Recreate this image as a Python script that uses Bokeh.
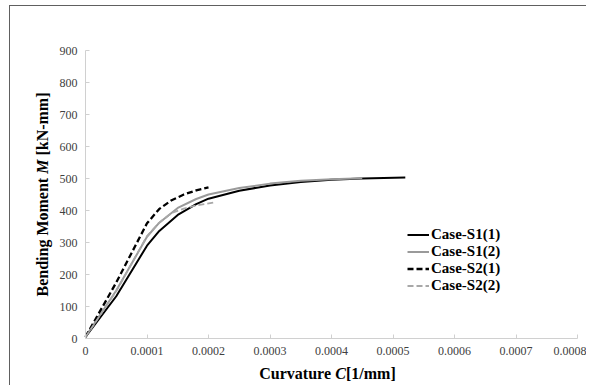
import math
from bokeh.plotting import figure
from bokeh.models import FixedTicker, Range1d, Legend, LegendItem, Label
from bokeh.embed import file_html
from bokeh.resources import INLINE

# Data (curvature [1/mm], bending moment [kN-mm])
s1_1_x = [0, 0.00005, 0.0001, 0.00012, 0.00015, 0.00018, 0.0002, 0.00025, 0.0003, 0.00035, 0.0004, 0.00045, 0.00052]
s1_1_y = [5, 132, 290, 336, 386, 420, 437, 462, 478, 489, 496, 500, 503]

s1_2_x = [0, 0.00005, 0.0001, 0.00012, 0.00015, 0.00018, 0.0002, 0.00025, 0.0003, 0.00035, 0.0004, 0.00045]
s1_2_y = [5, 150, 318, 362, 408, 436, 450, 470, 484, 493, 498, 501]

s2_1_x = [0, 0.00005, 0.0001, 0.00012, 0.00014, 0.00016, 0.00018, 0.0002]
s2_1_y = [5, 175, 360, 405, 432, 450, 463, 472]

s2_2_x = [0, 0.00005, 0.0001, 0.00012, 0.00014, 0.00016, 0.00018, 0.00021]
s2_2_y = [5, 148, 320, 362, 392, 406, 416, 425]

x_ticks = [0, 0.0001, 0.0002, 0.0003, 0.0004, 0.0005, 0.0006, 0.0007, 0.0008]
x_tick_labels = ["0", "0.0001", "0.0002", "0.0003", "0.0004", "0.0005", "0.0006", "0.0007", "0.0008"]
y_ticks = [0, 100, 200, 300, 400, 500, 600, 700, 800, 900]

x_title = ["Curvature ", "C", "[1/mm]"]
y_title = ["Bending Moment ", "M", " [kN-mm]"]

# canvas / plotting-area geometry in pixels
W, H = 577, 380
LEFT, RIGHT, TOP, BOTTOM = 75, 10, 44, 48
XMIN, XMAX, YMIN, YMAX = 0, 0.0008, 0, 900
xpp = (XMAX - XMIN) / (W - LEFT - RIGHT)
ypp = (YMAX - YMIN) / (H - TOP - BOTTOM)

p = figure(width=W, height=H, output_backend="svg", toolbar_location=None,
           x_range=Range1d(XMIN - LEFT * xpp, XMAX + RIGHT * xpp),
           y_range=Range1d(YMIN - BOTTOM * ypp, YMAX + TOP * ypp),
           min_border_left=0, min_border_right=0, min_border_top=0, min_border_bottom=0)
p.styles = {"border-left": "1px solid #606060", "border-top": "1px solid #606060",
            "margin-left": "9px", "margin-top": "5px"}
p.outline_line_color = None
p.grid.visible = False

serif = "Liberation Serif"
p.xaxis[0].fixed_location = YMIN
p.xaxis[0].bounds = (XMIN, XMAX)
p.yaxis[0].fixed_location = XMIN
p.yaxis[0].bounds = (YMIN, YMAX)
for ax in (p.xaxis[0], p.yaxis[0]):
    ax.axis_line_color = "#d0d0d0"
    ax.major_tick_line_color = "#d0d0d0"
    ax.major_tick_in = 4
    ax.major_tick_out = 0
    ax.minor_tick_line_color = None
    ax.major_label_text_font = serif
    ax.major_label_text_font_size = "12px"
    ax.major_label_text_color = "#404040"
    ax.major_label_standoff = 8

p.xaxis[0].ticker = FixedTicker(ticks=x_ticks)
p.xaxis[0].major_label_overrides = {t: l for t, l in zip(x_ticks, x_tick_labels)}
p.yaxis[0].ticker = FixedTicker(ticks=y_ticks)

r1 = p.line(s1_1_x, s1_1_y, line_color="black", line_width=2)
r2 = p.line(s1_2_x, s1_2_y, line_color="#9a9a9a", line_width=2)
r3 = p.line(s2_1_x, s2_1_y, line_color="black", line_width=2.3, line_dash="6 3")
r4 = p.line(s2_2_x, s2_2_y, line_color="#a8a8a8", line_width=1.8, line_dash="6 3")

# axis titles with an italic symbol (Times metrics, 16px bold); screen coords from bottom-left
fs = 16
x_widths = [4749 * fs / 1000, 667 * fs / 1000, 3110 * fs / 1000]
y_widths = [7417 * fs / 1000, 889 * fs / 1000, 3943 * fs / 1000]
y_gaps = [250 * fs / 1000, 250 * fs / 1000, 0]
styles = ["bold", "bold italic", "bold"]

pos = 317 - sum(x_widths) / 2
for txt, w, st in zip(x_title, x_widths, styles):
    p.add_layout(Label(x=pos, y=13, x_units="screen", y_units="screen", text=txt.strip(),
                       text_font=serif, text_font_style=st, text_font_size=f"{fs}px",
                       text_align="left", text_baseline="middle", text_color="black"))
    pos += w

pos = 192 - (sum(y_widths) + sum(y_gaps)) / 2
for txt, w, g, st in zip(y_title, y_widths, y_gaps, styles):
    p.add_layout(Label(x=32, y=pos, x_units="screen", y_units="screen", text=txt.strip(),
                       angle=math.pi / 2,
                       text_font=serif, text_font_style=st, text_font_size=f"{fs}px",
                       text_align="left", text_baseline="middle", text_color="black"))
    pos += w + g

legend = Legend(items=[LegendItem(label="Case-S1(1)", renderers=[r1]),
                       LegendItem(label="Case-S1(2)", renderers=[r2]),
                       LegendItem(label="Case-S2(1)", renderers=[r3]),
                       LegendItem(label="Case-S2(2)", renderers=[r4])],
                location=(LEFT + 322, BOTTOM + 44))
legend.background_fill_alpha = 0
legend.border_line_color = None
legend.label_text_font = serif
legend.label_text_font_style = "bold"
legend.label_text_font_size = "15px"
legend.label_text_color = "black"
legend.glyph_width = 22
legend.glyph_height = 15
legend.label_height = 15
legend.label_standoff = 2
legend.spacing = -1
legend.padding = 0
legend.margin = 0
p.add_layout(legend)

open("out.html", "w").write(file_html(p, INLINE))
